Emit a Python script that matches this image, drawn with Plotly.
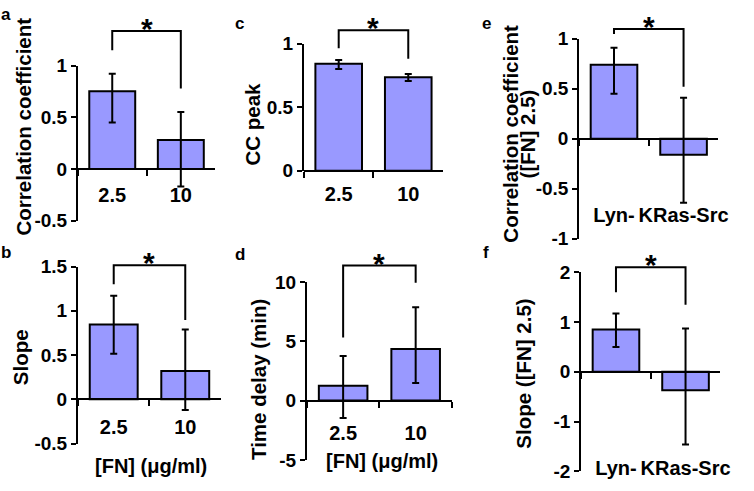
import plotly.graph_objects as go

W, H = 754, 491

# ---------------- data ----------------
fn_cats = ["2.5", "10"]
src_cats = ["Lyn-", "KRas-Src"]

corr_fn = [0.75, 0.28]
corr_fn_hi = [0.92, 0.55]
corr_fn_lo = [0.45, -0.17]
corr_fn_ticks = [-0.5, 0, 0.5, 1]

slope_fn = [0.845, 0.32]
slope_fn_hi = [1.17, 0.79]
slope_fn_lo = [0.515, -0.12]
slope_fn_ticks = [-0.5, 0, 0.5, 1, 1.5]

ccpeak = [0.84, 0.735]
ccpeak_hi = [0.87, 0.76]
ccpeak_lo = [0.80, 0.705]
ccpeak_ticks = [0, 0.5, 1]

delay = [1.25, 4.35]
delay_hi = [3.75, 7.85]
delay_lo = [-1.48, 1.48]
delay_ticks = [-5, 0, 5, 10]

corr_src = [0.74, -0.16]
corr_src_hi = [0.91, 0.41]
corr_src_lo = [0.45, -0.64]
corr_src_ticks = [-1, -0.5, 0, 0.5, 1]

slope_src = [0.85, -0.37]
slope_src_hi = [1.17, 0.87]
slope_src_lo = [0.50, -1.46]
slope_src_ticks = [-2, -1, 0, 1, 2]

# ---------------- layout of panels (pixels) ----------------
panels = [
    dict(cats=fn_cats, v=corr_fn, hi=corr_fn_hi, lo=corr_fn_lo, ticks=corr_fn_ticks,
         box=(79, 218, 58, 220), letter="a", lpos=(6, 5), standoff=8,
         ytitle=["Correlation coefficient"], ytpos=[(24, 122)],
         br=(1.333, 1.148, 0.778), xtitle=None),
    dict(cats=fn_cats, v=slope_fn, hi=slope_fn_hi, lo=slope_fn_lo, ticks=slope_fn_ticks,
         box=(79, 224, 268, 453), letter="b", lpos=(6, 253), standoff=10,
         ytitle=["Slope"], ytpos=[(21, 363)],
         br=(1.515, 1.30, 0.895), xtitle=(153, 476)),
    dict(cats=fn_cats, v=ccpeak, hi=ccpeak_hi, lo=ccpeak_lo, ticks=ccpeak_ticks,
         box=(308, 449, 35, 168), letter="c", lpos=(243, 14), standoff=5,
         ytitle=["CC peak"], ytpos=[(256, 119)],
         br=(1.105, 0.962, 0.88), xtitle=None),
    dict(cats=fn_cats, v=delay, hi=delay_hi, lo=delay_lo, ticks=delay_ticks,
         box=(311, 458, 284, 470), letter="d", lpos=(243, 255), standoff=14,
         ytitle=["Time delay (min)"], ytpos=[(262, 386)],
         br=(11.37, 5.32, 9.92), xtitle=(387, 471)),
    dict(cats=src_cats, v=corr_src, hi=corr_src_hi, lo=corr_src_lo, ticks=corr_src_ticks,
         box=(587, 728, 30, 239), letter="e", lpos=(493, 14), standoff=58,
         ytitle=["Correlation coefficient", "([FN] 2.5)"], ytpos=[(517, 129), (535, 129)],
         br=(1.096, 1.048, 0.52), xtitle=None),
    dict(cats=src_cats, v=slope_src, hi=slope_src_hi, lo=slope_src_lo, ticks=slope_src_ticks,
         box=(589, 730, 274, 482), letter="f", lpos=(493, 253), standoff=78,
         ytitle=["Slope ([FN] 2.5)"], ytpos=[(531, 380)],
         br=(2.1, 1.6, 1.35), xtitle=None),
]

FONT = "Liberation Sans, Arial, sans-serif"
BAR_COLOR = "#9999ff"

fig = go.Figure()
layout = dict(width=W, height=H, autosize=False, margin=dict(l=0, r=0, t=0, b=0, pad=0),
              paper_bgcolor="white", plot_bgcolor="white", showlegend=False,
              font=dict(family=FONT, color="black"))
shapes, annots = [], []


def fmt(v):
    return f"{v:g}"


for k, p in enumerate(panels, start=1):
    x0, x1, yt, yb = p["box"]
    r0, r1 = min(p["ticks"]), max(p["ticks"])

    def fy(val, yt=yt, yb=yb, r0=r0, r1=r1):
        pix = yb - (val - r0) / (r1 - r0) * (yb - yt)
        return 1 - pix / H

    def fx(i, x0=x0, x1=x1, n=len(p["cats"])):
        return (x0 + (i + 0.5) / n * (x1 - x0)) / W

    xs = "" if k == 1 else str(k)
    fig.add_trace(go.Bar(
        x=p["cats"], y=p["v"], width=0.67,
        marker=dict(color=BAR_COLOR, line=dict(color="black", width=2)),
        error_y=dict(type="data", symmetric=False,
                     array=[h - v for h, v in zip(p["hi"], p["v"])],
                     arrayminus=[v - l for v, l in zip(p["v"], p["lo"])],
                     color="black", thickness=2, width=3.5),
        xaxis="x" + xs, yaxis="y" + xs, hoverinfo="skip"))

    layout["xaxis" + xs] = dict(
        domain=[x0 / W, x1 / W], anchor="free", position=fy(0),
        type="category", range=[-0.5, len(p["cats"]) - 0.5],
        showline=True, linecolor="black", linewidth=2,
        ticks="outside", tickson="boundaries", ticklen=6, tickwidth=2, tickcolor="black",
        tickfont=dict(size=20, family=FONT, weight="bold"), tickangle=0,
        showgrid=False, zeroline=False, fixedrange=True, ticklabelstandoff=p["standoff"])
    layout["yaxis" + xs] = dict(
        domain=[1 - yb / H, 1 - yt / H], anchor="x" + xs, range=[r0, r1],
        tickvals=p["ticks"], ticktext=[fmt(t) for t in p["ticks"]],
        showline=True, linecolor="black", linewidth=2,
        ticks="outside", ticklen=5, tickwidth=2, tickcolor="black",
        tickfont=dict(size=19, family=FONT, weight="bold"),
        showgrid=False, zeroline=False, fixedrange=True)

    # significance bracket and asterisk
    top, le, re_ = p["br"]
    xl, xr = fx(0), fx(1)
    shapes.append(dict(type="path", xref="paper", yref="paper",
                       path=f"M {xl},{fy(le)} L {xl},{fy(top)} L {xr},{fy(top)} L {xr},{fy(re_)}",
                       line=dict(color="black", width=2)))
    annots.append(dict(text="*", x=(xl + xr) / 2, y=fy(top), xref="paper", yref="paper",
                       xanchor="center", yanchor="bottom", yshift=-16, showarrow=False,
                       font=dict(size=30, family=FONT, weight="bold")))

    # panel letter
    lx, ly = p["lpos"]
    annots.append(dict(text=p["letter"], x=lx / W, y=1 - ly / H, xref="paper", yref="paper",
                       xanchor="center", yanchor="middle", showarrow=False,
                       font=dict(size=17, family=FONT, weight="bold")))
    # y-axis titles
    for t, (tx, ty) in zip(p["ytitle"], p["ytpos"]):
        annots.append(dict(text=t, x=tx / W, y=1 - ty / H, xref="paper", yref="paper",
                           xanchor="center", yanchor="middle", textangle=-90, showarrow=False,
                           font=dict(size=20.5, family=FONT, weight="bold")))
    # x-axis title
    if p["xtitle"]:
        tx, ty = p["xtitle"]
        annots.append(dict(text="[FN] (μg/ml)", x=tx / W, y=1 - ty / H, xref="paper", yref="paper",
                           xanchor="center", yanchor="middle", showarrow=False,
                           font=dict(size=20, family=FONT, weight="bold")))

layout["shapes"] = shapes
layout["annotations"] = annots
fig.update_layout(**layout)
fig.write_html("out.html", config={"responsive": False, "displayModeBar": False},
               post_script="document.body.style.margin='0px';document.body.style.overflow='hidden';")
